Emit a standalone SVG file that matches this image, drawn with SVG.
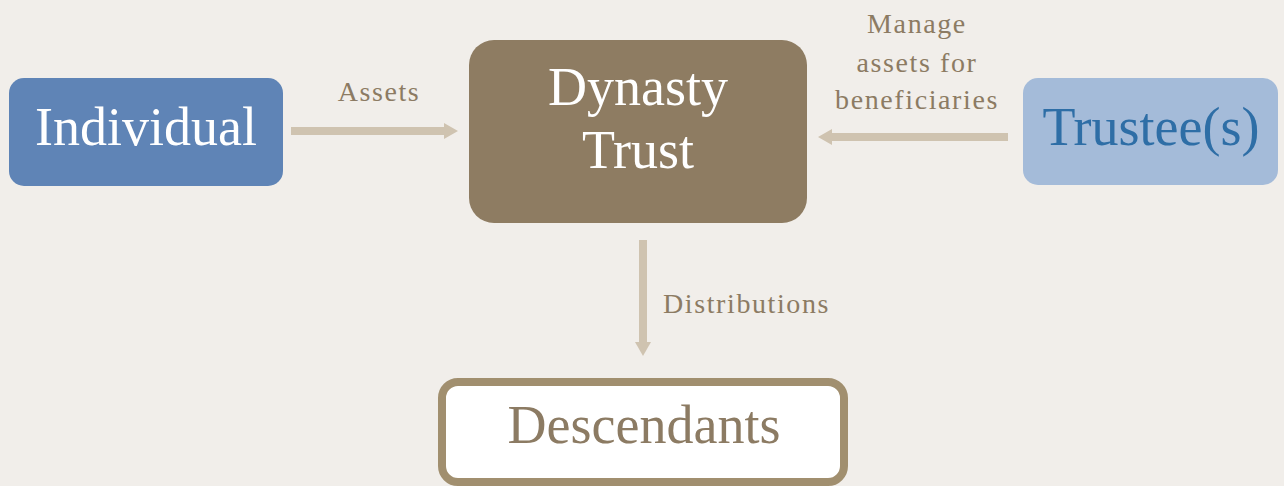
<svg xmlns="http://www.w3.org/2000/svg" width="1284" height="486" viewBox="0 0 1284 486">
<style>
.big{font-family:"Liberation Serif","Times New Roman",serif;font-size:54px;text-anchor:middle}
.lbl{font-family:"Liberation Serif","Times New Roman",serif;font-size:28px;letter-spacing:1.6px;fill:#8c7b63}
.conn{stroke:#cfc3b0;stroke-width:8;fill:none}
</style>
<defs>
<marker id="ah" markerUnits="userSpaceOnUse" markerWidth="16" markerHeight="18" refX="2" refY="9" orient="auto">
<path d="M0,1 L14,9 L0,17 Z" fill="#cfc3b0"/>
</marker>
</defs>
<rect width="1284" height="486" fill="#f1eeea"/>
<g id="connectors">
<g id="c-assets">
<line class="conn" x1="291" y1="131" x2="446" y2="131" marker-end="url(#ah)"/>
<text class="lbl" x="379" y="101" text-anchor="middle">Assets</text>
</g>
<g id="c-manage">
<line class="conn" x1="1008" y1="137" x2="830" y2="137" marker-end="url(#ah)"/>
<text class="lbl" x="917" y="33" text-anchor="middle">Manage</text>
<text class="lbl" x="917" y="72" text-anchor="middle">assets for</text>
<text class="lbl" x="917" y="109" text-anchor="middle">beneficiaries</text>
</g>
<g id="c-dist">
<line class="conn" x1="643" y1="240" x2="643" y2="344" marker-end="url(#ah)"/>
<text class="lbl" x="663" y="313">Distributions</text>
</g>
</g>
<g id="individual">
<rect x="9" y="78" width="274" height="108" rx="15" fill="#5f84b6"/>
<text class="big" x="146" y="145" fill="#ffffff">Individual</text>
</g>
<g id="dynasty-trust">
<rect x="469" y="40" width="338" height="183" rx="25" fill="#8e7c62"/>
<text class="big" x="638" y="105" fill="#ffffff">Dynasty</text>
<text class="big" x="638" y="168" fill="#ffffff">Trust</text>
</g>
<g id="trustees">
<rect x="1023" y="78" width="255" height="107" rx="15" fill="#a4bbd9"/>
<text class="big" x="1151" y="145" fill="#2e6ea6">Trustee(s)</text>
</g>
<g id="descendants">
<rect x="442" y="382" width="402" height="100" rx="16" fill="#ffffff" stroke="#a18f6f" stroke-width="8"/>
<text class="big" x="644" y="443" fill="#8c7b63">Descendants</text>
</g>
</svg>
